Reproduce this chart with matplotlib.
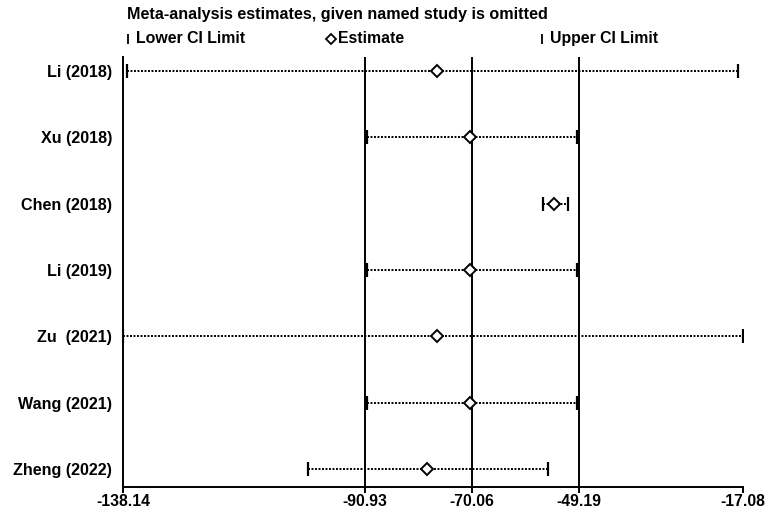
import matplotlib
matplotlib.use("Agg")
import matplotlib.pyplot as plt

# influence analysis: estimate with each study omitted
studies = ["Li (2018)", "Xu (2018)", "Chen (2018)", "Li (2019)",
           "Zu  (2021)", "Wang (2021)", "Zheng (2022)"]
estimate = [-76.9, -70.4, -53.9, -70.4, -76.9, -70.4, -78.7]
lower = [-137.3, -90.5, -56.1, -90.5, -138.14, -90.5, -102.1]
upper = [-18.0, -49.4, -51.3, -49.4, -17.08, -49.4, -55.1]

ref_lines = [-90.93, -70.06, -49.19]
xticks = [-138.14, -90.93, -70.06, -49.19, -17.08]
xticklabels = ["-138.14", "-90.93", "-70.06", "-49.19", "-17.08"]

plt.rcParams['font.family'] = ['Liberation Sans', 'DejaVu Sans']
plt.rcParams['font.weight'] = 'bold'

fig = plt.figure(figsize=(7.69, 5.13), dpi=100)
ax = fig.add_axes([123 / 769, 26 / 513, 620 / 769, 430 / 513])

rows = list(range(1, len(studies) + 1))

for x in ref_lines:
    ax.axvline(x, color="black", lw=1.4, zorder=1)

for y, lo, hi in zip(rows, lower, upper):
    ax.plot([lo, hi], [y, y], color="black", lw=1.4,
            linestyle=(0, (1, 0.8)), zorder=2)
ax.plot(lower, rows, linestyle="none", marker="|", markersize=10,
        markeredgewidth=1.6, color="black", zorder=3)
ax.plot(upper, rows, linestyle="none", marker="|", markersize=10,
        markeredgewidth=1.6, color="black", zorder=3)
ax.plot(estimate, rows, linestyle="none", marker="D", markersize=6,
        markerfacecolor="white", markeredgecolor="black",
        markeredgewidth=1.4, zorder=4)

ax.set_xlim(-138.14, -17.08)
ax.set_ylim(7.27, 0.79)
ax.set_xticks(xticks)
ax.set_xticklabels(xticklabels, fontsize=11.3, fontweight="bold")
ax.set_yticks(rows)
ax.set_yticklabels(studies, fontsize=11.6, fontweight="bold")
ax.tick_params(axis="y", length=0, pad=8)
ax.tick_params(axis="x", length=4, width=1.4, pad=1)
for s in ["top", "right"]:
    ax.spines[s].set_visible(False)
ax.spines["left"].set_linewidth(1.4)
ax.spines["bottom"].set_linewidth(1.4)

# title and legend row
fig.text(127 / 769, 1 - 15 / 513, "Meta-analysis estimates, given named study is omitted",
         fontsize=11.6, fontweight="bold", va="center", ha="left")
leg_y = 1 - 39 / 513
items = [(128, "|", "Lower CI Limit"), (331, "D", "Estimate"), (542, "|", "Upper CI Limit")]
for px, mk, label in items:
    if mk == "D":
        fig.add_artist(plt.Line2D([px / 769], [leg_y], marker="D", markersize=5.5,
                                  markerfacecolor="white", markeredgecolor="black",
                                  markeredgewidth=1.3, linestyle="none"))
        tx = px + 7
    else:
        fig.add_artist(plt.Line2D([px / 769], [leg_y], marker="|", markersize=7,
                                  markeredgewidth=1.3, color="black", linestyle="none"))
        tx = px + 8
    fig.text(tx / 769, leg_y, label, fontsize=11.4, fontweight="bold",
             va="center", ha="left")

fig.savefig("out.png", dpi=100)
